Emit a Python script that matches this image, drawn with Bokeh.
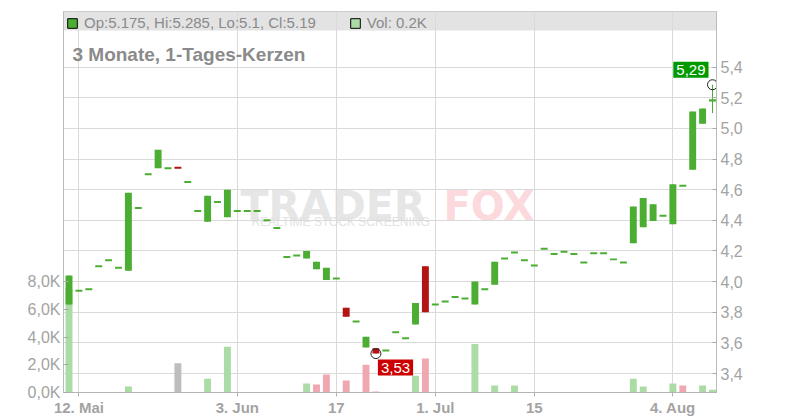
from bokeh.plotting import figure
from bokeh.models import (Range1d, LinearAxis, FixedTicker, Label, BoxAnnotation,
                          Legend, LegendItem, ColumnDataSource)
from bokeh.embed import file_html
from bokeh.resources import INLINE
import math

# ---------------- data (trading-day index 0 = 9 May) ----------------
opens = [3.85, 3.94, 3.95, 4.10, 4.14, 4.09, 4.07, 4.48, 4.70, 4.74,
         4.74, 4.747, 4.65, 4.46, 4.39, 4.52, 4.42, 4.46, 4.46, 4.46,
         4.40, 4.35, 4.16, 4.17, 4.15, 4.08, 4.01, 4.02, 3.83, 3.74,
         3.57, 3.565, 3.55, 3.67, 3.63, 3.72, 4.10, 3.85, 3.87, 3.90,
         3.89, 3.85, 3.95, 3.98, 4.15, 4.19, 4.14, 4.105, 4.215, 4.18,
         4.195, 4.18, 4.125, 4.185, 4.185, 4.145, 4.125, 4.25, 4.355, 4.395,
         4.43, 4.375, 4.625, 4.73, 5.03, 5.175]
closes = [4.04, 3.94, 3.95, 4.10, 4.14, 4.09, 4.58, 4.48, 4.70, 4.86,
          4.74, 4.74, 4.65, 4.46, 4.56, 4.52, 4.60, 4.46, 4.46, 4.46,
          4.40, 4.35, 4.16, 4.17, 4.20, 4.13, 4.09, 4.02, 3.77, 3.74,
          3.64, 3.53, 3.55, 3.67, 3.63, 3.86, 3.80, 3.85, 3.87, 3.90,
          3.89, 4.00, 3.95, 4.13, 4.15, 4.19, 4.14, 4.105, 4.215, 4.18,
          4.195, 4.18, 4.125, 4.185, 4.185, 4.145, 4.125, 4.49, 4.545, 4.505,
          4.43, 4.635, 4.625, 5.11, 5.13, 5.19]
highs = [4.04, 3.94, 3.95, 4.10, 4.14, 4.09, 4.58, 4.48, 4.70, 4.86,
         4.74, 4.747, 4.65, 4.46, 4.56, 4.52, 4.60, 4.46, 4.46, 4.46,
         4.40, 4.35, 4.16, 4.17, 4.20, 4.13, 4.09, 4.02, 3.83, 3.74,
         3.64, 3.565, 3.55, 3.67, 3.63, 3.86, 4.10, 3.85, 3.87, 3.90,
         3.89, 4.00, 3.95, 4.13, 4.15, 4.19, 4.14, 4.105, 4.215, 4.18,
         4.195, 4.18, 4.125, 4.185, 4.185, 4.145, 4.125, 4.49, 4.545, 4.505,
         4.43, 4.635, 4.625, 5.11, 5.13, 5.285]
lows = [3.85, 3.94, 3.95, 4.10, 4.14, 4.09, 4.07, 4.48, 4.70, 4.74,
        4.74, 4.74, 4.65, 4.46, 4.39, 4.52, 4.42, 4.46, 4.46, 4.46,
        4.40, 4.35, 4.16, 4.17, 4.15, 4.08, 4.01, 4.02, 3.77, 3.74,
        3.57, 3.53, 3.55, 3.67, 3.63, 3.72, 3.80, 3.85, 3.87, 3.90,
        3.89, 3.85, 3.95, 3.98, 4.15, 4.19, 4.14, 4.105, 4.215, 4.18,
        4.195, 4.18, 4.125, 4.185, 4.185, 4.145, 4.125, 4.25, 4.355, 4.395,
        4.43, 4.375, 4.625, 4.73, 5.03, 5.10]
volumes = [7500, 0, 0, 0, 0, 0, 430, 0, 0, 0,
           0, 2100, 0, 0, 1000, 0, 3300, 0, 0, 0,
           0, 0, 0, 0, 650, 580, 1300, 0, 860, 0,
           2000, 70, 0, 0, 0, 1200, 2450, 0, 0, 0,
           0, 3500, 0, 500, 0, 500, 0, 0, 0, 0,
           0, 0, 0, 0, 0, 0, 0, 1000, 430, 0,
           0, 650, 500, 0, 500, 200]

x_ticks = [1, 17, 27, 37, 47, 61]
x_tick_labels = ["12. Mai", "3. Jun", "17", "1. Jul", "15", "4. Aug"]
price_ticks = [3.4, 3.6, 3.8, 4.0, 4.2, 4.4, 4.6, 4.8, 5.0, 5.2, 5.4]
vol_ticks = [0, 2000, 4000, 6000, 8000]

# ---------------- styling ----------------
GREEN = "#4bae32"
RED = "#b31515"
VGREEN = "#acdca5"
VRED = "#f0a8b0"
VGRAY = "#bdbdbd"
TXT = "#8a8a8a"
AXT = "#a3a3a3"
FONT = "Liberation Sans"

n = len(opens)
xs = list(range(n))
body_top, body_bot, ccol = [], [], []
for o, c in zip(opens, closes):
    t, b = max(o, c), min(o, c)
    if t - b < 0.013:
        m = (t + b) / 2
        t, b = m + 0.0065, m - 0.0065
    body_top.append(t)
    body_bot.append(b)
    ccol.append(GREEN if c >= o else RED)
vcol = []
for i, c in enumerate(closes):
    if i == 0 or c > closes[i - 1]:
        vcol.append(VGREEN)
    elif c < closes[i - 1]:
        vcol.append(VRED)
    else:
        vcol.append(VGRAY)

src = ColumnDataSource(dict(x=xs, top=body_top, bot=body_bot, hi=highs, lo=lows,
                            col=ccol, vol=volumes, vcol=vcol))

p = figure(width=790, height=420, x_range=Range1d(-0.556, 65.404),
           y_range=Range1d(3.276, 5.763), y_axis_location="right",
           output_backend="svg", toolbar_location=None,
           min_border_left=63, min_border_right=74, min_border_top=11, min_border_bottom=28)
p.background_fill_color = "white"
p.border_fill_color = "white"
p.outline_line_color = "#c4c4c4"
p.extra_y_ranges = {"vol": Range1d(0, 27460), "legend": Range1d(1000, 1001)}

# header band
p.add_layout(BoxAnnotation(bottom=5.639, fill_color="#e3e3e3", fill_alpha=1,
                           line_alpha=0, level="image"))

# watermark
p.add_layout(Label(x=17.32, y=4.493, text="TRADER", text_font="DejaVu Sans",
                   text_font_style="bold", text_font_size="41px", text_color="#e6e6e6",
                   text_baseline="alphabetic", level="image"))
p.add_layout(Label(x=37.83, y=4.493, text="FOX", text_font="DejaVu Sans",
                   text_font_style="bold", text_font_size="40px", text_color="#fcd9dc",
                   text_baseline="alphabetic", level="image"))
p.add_layout(Label(x=18.43, y=4.387, text="REALTIME STOCK SCREENING", text_font=FONT,
                   text_font_size="12px", text_color="#e2e2e2",
                   text_baseline="alphabetic", level="image"))

# grids
p.xgrid.ticker = FixedTicker(ticks=x_ticks)
p.ygrid.ticker = FixedTicker(ticks=price_ticks)
p.xgrid.grid_line_color = "#dadada"
p.ygrid.grid_line_color = "#dadada"

# price axis (right)
pax = p.yaxis[0]
pax.ticker = FixedTicker(ticks=price_ticks)
pax.major_label_overrides = {t: f"{t:.1f}".replace(".", ",") for t in price_ticks}
pax.axis_line_color = "#bbbbbb"
pax.major_tick_line_color = "#aaaaaa"
pax.major_tick_in = 4
pax.major_tick_out = 0
pax.minor_tick_line_color = None
pax.major_label_standoff = 4
pax.major_label_text_font = FONT
pax.major_label_text_font_size = "16px"
pax.major_label_text_color = AXT

# volume axis (left)
vax = LinearAxis(y_range_name="vol", ticker=FixedTicker(ticks=vol_ticks))
vax.major_label_overrides = {t: f"{t/1000:.1f}K".replace(".", ",") for t in vol_ticks}
vax.axis_line_color = "#bbbbbb"
vax.major_tick_line_color = "#aaaaaa"
vax.major_tick_in = 5
vax.major_tick_out = 0
vax.minor_tick_line_color = None
vax.major_label_standoff = 3
vax.major_label_text_font = FONT
vax.major_label_text_font_size = "16px"
vax.major_label_text_color = AXT
p.add_layout(vax, "left")

# x axis
xax = p.xaxis[0]
xax.ticker = FixedTicker(ticks=x_ticks)
xax.major_label_overrides = dict(zip(x_ticks, x_tick_labels))
xax.axis_line_color = "#b4b4b4"
xax.major_tick_line_color = "#b4b4b4"
xax.major_tick_in = 0
xax.major_tick_out = 4
xax.minor_tick_line_color = None
xax.major_label_standoff = 2
xax.major_label_text_font = FONT
xax.major_label_text_font_style = "bold"
xax.major_label_text_font_size = "15px"
xax.major_label_text_color = AXT

# volume bars
p.vbar(x="x", top="vol", bottom=0, width=0.7, fill_color="vcol", line_color=None,
       source=src, y_range_name="vol")
# candles
p.segment(x0="x", y0="lo", x1="x", y1="hi", line_color="col", line_width=1, source=src)
p.vbar(x="x", top="top", bottom="bot", width=0.7, fill_color="col",
       line_color=None, source=src)

# legend swatches (mapped to a range far above the data, so only the legend shows them)
lg_c = p.vbar(x="x", top="top", bottom="bot", width=0.7, fill_color=GREEN,
              line_color="black", source=src, y_range_name="legend")
lg_v = p.vbar(x="x", top="top", bottom="bot", width=0.7, fill_color=VGREEN,
              line_color="black", source=src, y_range_name="legend")

# high / low markers
i_hi = max(range(n), key=lambda i: highs[i])
i_lo = min(range(n), key=lambda i: lows[i])
p.scatter(x=[i_hi, i_lo], y=[highs[i_hi], lows[i_lo]], size=10, marker="circle",
          fill_alpha=0, line_color="#222222", line_width=1)

def fmt2(v):
    return f"{math.floor(v * 100 + 0.5 + 1e-9) / 100:.2f}".replace(".", ",")

p.add_layout(Label(x=i_hi, y=highs[i_hi], x_offset=-4, y_offset=7, text=fmt2(highs[i_hi]),
                   text_font=FONT, text_font_size="15px", text_color="white",
                   text_align="right", text_baseline="bottom",
                   background_fill_color="#009a00", padding=3))
p.add_layout(Label(x=i_lo, y=lows[i_lo], x_offset=2, y_offset=-6, text=fmt2(lows[i_lo]),
                   text_font=FONT, text_font_size="15px", text_color="white",
                   text_align="left", text_baseline="top",
                   background_fill_color="#cc0000", padding=3))

# title
p.add_layout(Label(x=0.35, y=5.483, text="3 Monate, 1-Tages-Kerzen", text_font=FONT,
                   text_font_style="bold", text_font_size="19px", text_color=TXT,
                   text_baseline="alphabetic"))

# header legend
hdr = f"Op:{opens[-1]}, Hi:{highs[-1]}, Lo:{lows[-1]}, Cl:{closes[-1]}"
vtxt = f"Vol: {volumes[-1] / 1000:.1f}K"
legend = Legend(items=[LegendItem(label=hdr, renderers=[lg_c], index=n - 1),
                       LegendItem(label=vtxt, renderers=[lg_v], index=n - 1)],
                location="top_left", orientation="horizontal", margin=0, padding=3,
                spacing=33, glyph_width=12, glyph_height=12, label_standoff=6,
                label_height=12, label_text_font=FONT, label_text_font_size="15px",
                label_text_color=TXT, background_fill_alpha=0, border_line_alpha=0)
p.add_layout(legend)

open("out.html", "w").write(file_html(p, INLINE))
